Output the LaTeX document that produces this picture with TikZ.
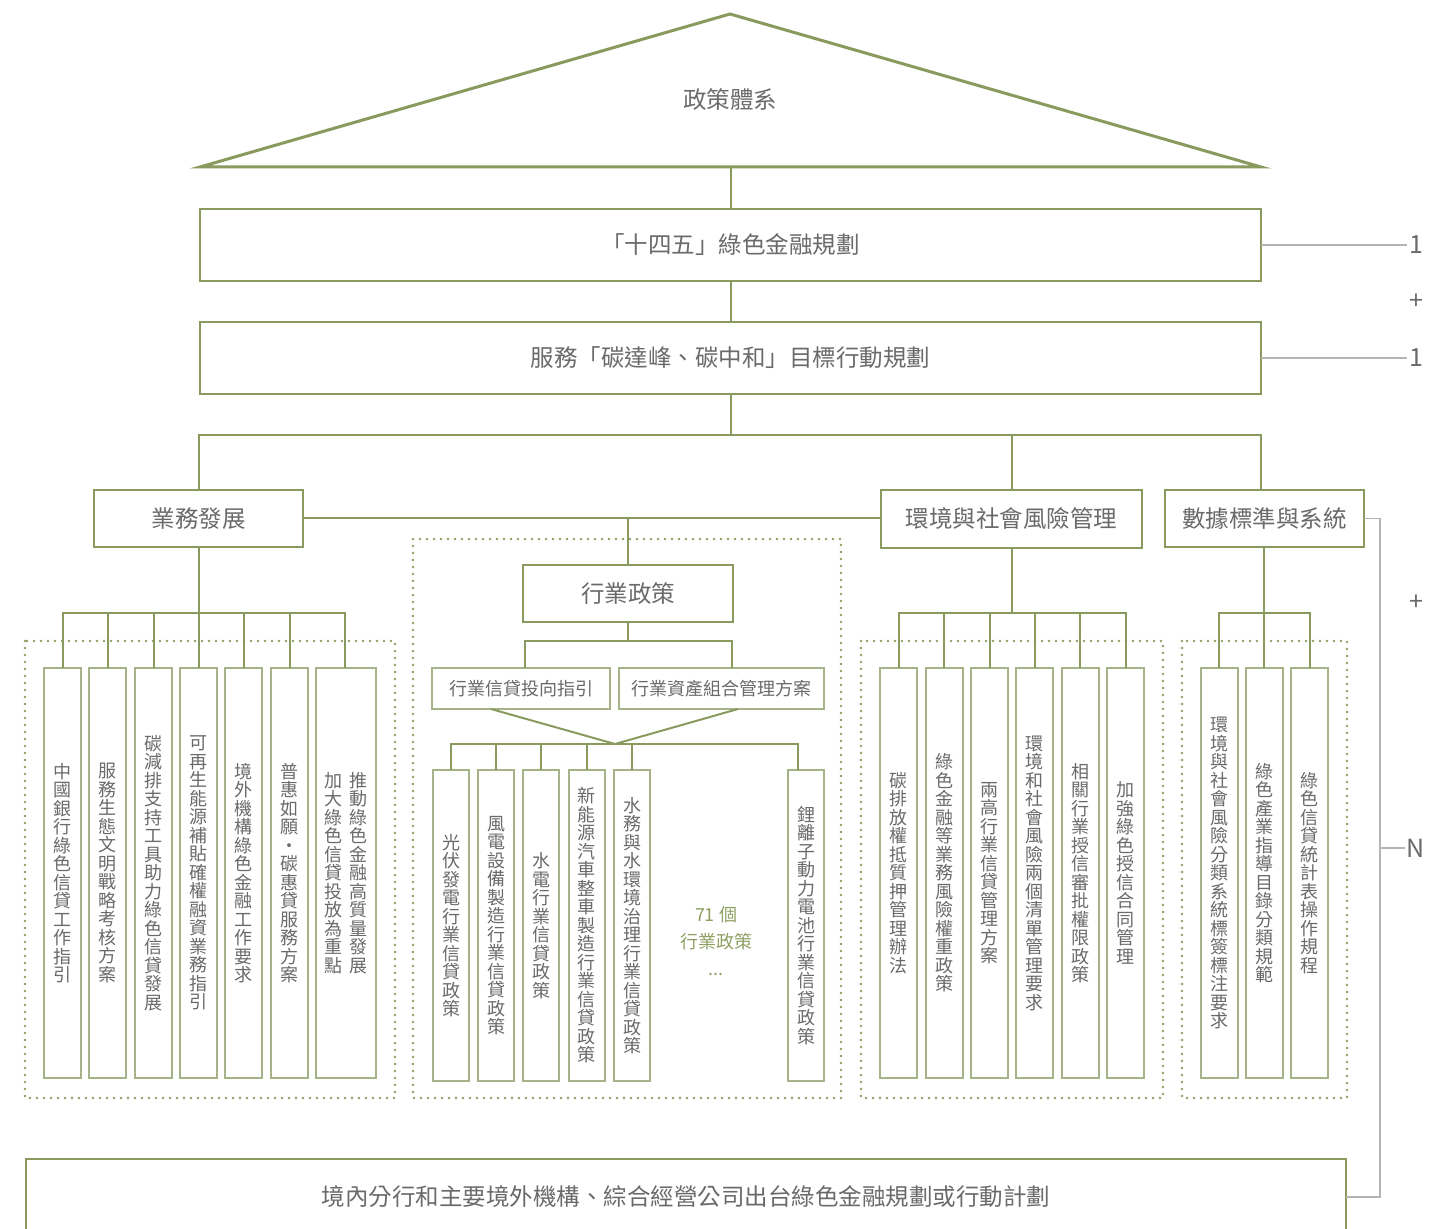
\documentclass[tikz,border=0pt]{standalone}
\usepackage{fontspec}
\setmainfont{Noto Sans CJK TC}
\definecolor{boxgreen}{HTML}{8A9A5E}
\definecolor{leafgreen}{HTML}{A6B388}
\definecolor{dotgreen}{HTML}{8E9D63}
\definecolor{txtgray}{HTML}{6A6A6A}
\definecolor{sidegray}{HTML}{B4B4B4}
\definecolor{notegreen}{HTML}{8F9F62}
\def\vtloop#1{\ifx#1\relax\else\hbox to 9pt{\hss#1\hss}\expandafter\vtloop\fi}
\newcommand\vtxt[1]{\vbox{\baselineskip=9.25pt\lineskiplimit=-20pt\lineskip=0pt\vtloop#1\relax}}
\tikzset{
  headbox/.style={draw=boxgreen, line width=1.4pt, fill=white, text=txtgray, inner sep=0pt, outer sep=0pt, font=\fontsize{11.75}{14}\selectfont},
  midbox/.style={draw=leafgreen, line width=1pt, fill=white, text=txtgray, inner sep=0pt, outer sep=0pt, minimum height=20.5pt, font=\fontsize{9}{11}\selectfont},
  leaf/.style={draw=leafgreen, line width=1pt, fill=white, text=txtgray, inner sep=0pt, outer sep=0pt, minimum width=18.5pt, font=\fontsize{9}{9.25}\selectfont},
  tall/.style={minimum height=205pt},
  short/.style={minimum height=155.5pt},
  link/.style={draw=boxgreen, line width=1pt},
  sidelink/.style={draw=sidegray, line width=0.8pt},
  group/.style={draw=dotgreen, line width=1.4pt, dash pattern=on 0pt off 3.5pt, line cap=round},
  sidemark/.style={text=txtgray, inner sep=1pt, font=\fontsize{12.5}{14}\selectfont},
}
\begin{document}
\begin{tikzpicture}[x=0.5pt,y=-0.5pt]
  \useasboundingbox (0,0) rectangle (1434,1229);
  \clip (0,0) rectangle (1434,1229);

  \draw[group] (25,641) rectangle (395,1098);
  \draw[group] (413,539) rectangle (841,1098);
  \draw[group] (861,641) rectangle (1163,1098);
  \draw[group] (1182,641) rectangle (1347,1098);

  \coordinate (roofL) at (200,167);
  \coordinate (roofT) at (730,14);
  \coordinate (roofR) at (1261,167);
  \coordinate (roofbase) at (730.5,167);
  \draw[draw=boxgreen, line width=1.5pt] (roofL) -- (roofT) -- (roofR) -- cycle;
  \node[text=txtgray, font=\fontsize{11.75}{14}\selectfont] (roof) at (730,100) {政策體系};

  \node[headbox, minimum width=530.5pt, minimum height=36pt] (plan) at (730.5,245) {「十四五」綠色金融規劃};
  \node[headbox, minimum width=530.5pt, minimum height=36pt] (act) at (730.5,358) {服務「碳達峰、碳中和」目標行動規劃};

  \node[headbox, minimum width=104.5pt, minimum height=28.5pt] (biz) at (198.5,518.5) {業務發展};
  \node[headbox, minimum width=130.5pt, minimum height=29pt] (risk) at (1011.5,519) {環境與社會風險管理};
  \node[headbox, minimum width=99.5pt, minimum height=28.5pt] (data) at (1264.5,518.5) {數據標準與系統};
  \node[headbox, minimum width=105pt, minimum height=28.5pt] (ind) at (628,593.5) {行業政策};
  \node[midbox, minimum width=89pt] (credit) at (521,688.5) {行業信貸投向指引};
  \node[midbox, minimum width=102.5pt] (asset) at (721.5,688.5) {行業資產組合管理方案};

  \node[leaf, tall] (b1) at (62.5,873) {\vtxt{中國銀行綠色信貸工作指引}};
  \node[leaf, tall] (b2) at (107.5,873) {\vtxt{服務生態文明戰略考核方案}};
  \node[leaf, tall] (b3) at (153.5,873) {\vtxt{碳減排支持工具助力綠色信貸發展}};
  \node[leaf, tall] (b4) at (198.5,873) {\vtxt{可再生能源補貼確權融資業務指引}};
  \node[leaf, tall] (b5) at (243.5,873) {\vtxt{境外機構綠色金融工作要求}};
  \node[leaf, tall] (b6) at (289.5,873) {\vtxt{普惠如願·碳惠貸服務方案}};
  \node[leaf, tall, minimum width=30pt] (b7) at (346,873) {\vtxt{加大綠色信貸投放為重點}\hspace{3.5pt}\vtxt{推動綠色金融高質量發展}};

  \node[leaf, short, minimum width=18pt] (h1) at (451,925.5) {\vtxt{光伏發電行業信貸政策}};
  \node[leaf, short, minimum width=18pt] (h2) at (496,925.5) {\vtxt{風電設備製造行業信貸政策}};
  \node[leaf, short, minimum width=18pt] (h3) at (541,925.5) {\vtxt{水電行業信貸政策}};
  \node[leaf, short, minimum width=18pt] (h4) at (586.5,925.5) {\vtxt{新能源汽車整車製造行業信貸政策}};
  \node[leaf, short, minimum width=18pt] (h5) at (632,925.5) {\vtxt{水務與水環境治理行業信貸政策}};
  \node[leaf, short, minimum width=18pt] (h6) at (806,925.5) {\vtxt{鋰離子動力電池行業信貸政策}};
  \node[text=notegreen, align=center, font=\fontsize{9}{13.5}\selectfont] (more) at (716,941) {71 個\\行業政策\\...};

  \node[leaf, tall] (e1) at (898.5,873) {\vtxt{碳排放權抵質押管理辦法}};
  \node[leaf, tall] (e2) at (944,873) {\vtxt{綠色金融等業務風險權重政策}};
  \node[leaf, tall] (e3) at (989.5,873) {\vtxt{兩高行業信貸管理方案}};
  \node[leaf, tall] (e4) at (1034.5,873) {\vtxt{環境和社會風險兩個清單管理要求}};
  \node[leaf, tall] (e5) at (1080,873) {\vtxt{相關行業授信審批權限政策}};
  \node[leaf, tall] (e6) at (1125.5,873) {\vtxt{加強綠色授信合同管理}};

  \node[leaf, tall] (d1) at (1219,873) {\vtxt{環境與社會風險分類系統標簽標注要求}};
  \node[leaf, tall] (d2) at (1264,873) {\vtxt{綠色產業指導目錄分類規範}};
  \node[leaf, tall] (d3) at (1309.5,873) {\vtxt{綠色信貸統計表操作規程}};

  \node[headbox, minimum width=660pt, minimum height=38pt] (bottom) at (686,1197) {境內分行和主要境外機構、綜合經營公司出台綠色金融規劃或行動計劃};

  \coordinate (topbus) at (730.5,435);
  \coordinate (bbus) at (198.5,613);
  \coordinate (hsplit) at (628,641);
  \coordinate (meet) at (615,744);
  \coordinate (ebus) at (1011.5,613);
  \coordinate (dbus) at (1264,613);
  \begin{scope}[link]
    \draw (roofbase) -- (plan.north);
    \draw (plan.south) -- (act.north);
    \draw (act.south) -- (topbus);
    \draw (biz.north) |- (topbus);
    \draw (risk.north) |- (topbus);
    \draw ([xshift=-1.75pt]data.north) |- (topbus);
    \draw (biz.east) -- (biz.east -| risk.west);
    \draw (ind.north) -- (ind.north |- biz.east);
    \draw (biz.south) -- (bbus);
    \draw (b1.north) |- (bbus);
    \draw (b2.north) |- (bbus);
    \draw (b3.north) |- (bbus);
    \draw (b4.north) -- (bbus);
    \draw (b5.north) |- (bbus);
    \draw (b6.north) |- (bbus);
    \draw ([xshift=-0.5pt]b7.north) |- (bbus);
    \draw (ind.south) -- (hsplit);
    \draw ([xshift=2pt]credit.north) |- (hsplit);
    \draw ([xshift=5.25pt]asset.north) |- (hsplit);
    \draw ([xshift=-15pt]credit.south) -- (meet) -- ([xshift=8.25pt]asset.south);
    \draw (h1.north) |- (meet);
    \draw (h2.north) |- (meet);
    \draw (h3.north) |- (meet);
    \draw (h4.north) |- (meet);
    \draw (h5.north) |- (meet);
    \draw ([xshift=-4pt]h6.north) |- (meet);
    \draw (risk.south) -- (ebus);
    \draw (e1.north) |- (ebus);
    \draw (e2.north) |- (ebus);
    \draw (e3.north) |- (ebus);
    \draw (e4.north) |- (ebus);
    \draw (e5.north) |- (ebus);
    \draw (e6.north) |- (ebus);
    \draw ([xshift=-0.25pt]data.south) -- (d2.north);
    \draw (d1.north) |- (dbus);
    \draw (d3.north) |- (dbus);
  \end{scope}

  \node[sidemark] (one1) at (1416,245) {1};
  \node[sidemark] (plus1) at (1416,302) {+};
  \node[sidemark] (one2) at (1416,358) {1};
  \node[sidemark] (plus2) at (1416,603) {+};
  \node[sidemark] (many) at (1416,848) {N};
  \coordinate (brk) at (1380,848);
  \draw[sidelink] (plan.east) -- (one1.west);
  \draw[sidelink] (act.east) -- (one2.west);
  \draw[sidelink] (data.east) -| (brk) |- (bottom.east);
  \draw[sidelink] (brk) -- (many.west);
\end{tikzpicture}
\end{document}
